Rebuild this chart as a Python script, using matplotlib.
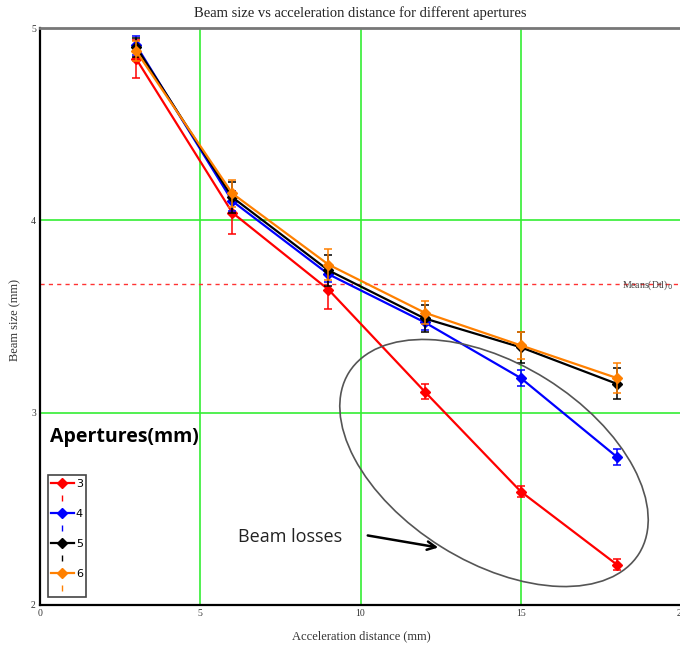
import matplotlib
matplotlib.use("Agg")
import matplotlib.pyplot as plt
from matplotlib.patches import Ellipse, FancyArrowPatch
from matplotlib.lines import Line2D
from matplotlib.transforms import IdentityTransform

# ---- data ----
distance = [3, 6, 9, 12, 15, 18]
apertures = ["3", "4", "5", "6"]
size_3 = [4.84, 4.04, 3.64, 3.11, 2.59, 2.21]
size_4 = [4.91, 4.10, 3.72, 3.47, 3.18, 2.77]
size_5 = [4.90, 4.12, 3.74, 3.49, 3.34, 3.15]
size_6 = [4.88, 4.14, 3.77, 3.52, 3.35, 3.18]
err_3 = [0.10, 0.11, 0.10, 0.04, 0.03, 0.03]
err_4 = [0.05, 0.05, 0.04, 0.04, 0.04, 0.04]
err_5 = [0.05, 0.08, 0.08, 0.07, 0.08, 0.08]
err_6 = [0.05, 0.07, 0.08, 0.06, 0.07, 0.08]
mean_line = 3.67
x_ticks = [0, 5, 10, 15, 20]
y_ticks = [2, 3, 4, 5]

colors = ["#ff0000", "#0000ff", "#000000", "#ff8000"]
sizes = [size_3, size_4, size_5, size_6]
errs = [err_3, err_4, err_5, err_6]

W, H = 680, 647
fig = plt.figure(figsize=(W / 100, H / 100), dpi=100)
ax = fig.add_axes([40 / W, 42 / H, 641 / W, 577 / H])
ax.set_xlim(0, 20)
ax.set_ylim(2, 5)
ax.set_xticks(x_ticks)
ax.set_yticks(y_ticks)
ax.grid(True, color="#33ee33", linewidth=1.2)
ax.set_axisbelow(True)
ax.tick_params(length=0, labelsize=7, pad=3)
for lab in ax.get_xticklabels() + ax.get_yticklabels():
    lab.set_family("Liberation Serif")
    lab.set_color("#333333")

for s in ["left", "bottom"]:
    ax.spines[s].set_color("black")
    ax.spines[s].set_linewidth(1.6)
ax.spines["top"].set_color("#777777")
ax.spines["top"].set_linewidth(2)
ax.spines["right"].set_visible(False)

ax.axhline(mean_line, color="#ff3333", linestyle=(0, (3, 3)), linewidth=1)
fig.text(622 / W, 1 - 285 / H, r"Means(Dtl)$_0$", family="Liberation Serif",
         fontsize=7, color="#444444", va="center", ha="left")

for i, (yv, ev, c) in enumerate(zip(sizes, errs, colors)):
    ax.errorbar(distance, yv, yerr=ev, color=c, marker="D", markersize=5.5,
                linewidth=1.6, elinewidth=1.1, capsize=3, capthick=1.1,
                zorder=3 + i)

ax.set_title("Beam size vs acceleration distance for different apertures",
             family="Liberation Serif", fontsize=10.5, color="#222222", pad=8)
fig.text(361 / W, 1 - 636 / H, "Acceleration distance (mm)",
         family="Liberation Serif", fontsize=9, color="#333333",
         ha="center", va="center")
fig.text(15 / W, 1 - 320 / H, "Beam size (mm)", family="Liberation Serif",
         fontsize=9, color="#333333", ha="center", va="center", rotation=90)

# legend
handles, labels = [], []
for name, c in zip(apertures, colors):
    handles.append(Line2D([], [], color=c, marker="D", markersize=5.5, linewidth=1.6))
    labels.append(name)
    handles.append(Line2D([], [], color=c, marker=r"$\mathrm{I}$", markersize=4,
                          linestyle="none"))
    labels.append(" ")
leg = ax.legend(handles, labels, loc="lower left",
                bbox_to_anchor=(8 / 641, 8 / 577), fontsize=8,
                frameon=True, fancybox=False, framealpha=1,
                edgecolor="#444444", handlelength=2.0, handletextpad=0.2,
                labelspacing=0.45, borderpad=0.3, borderaxespad=0)
leg.get_frame().set_linewidth(1.2)

fig.text(50 / W, 1 - 437 / H, "Apertures(mm)", family="Open Sans",
         fontsize=14, fontweight="bold", ha="left", va="center")

# annotation: ellipse + arrow + text
ell = Ellipse((494, H - 463), 342, 198, angle=-32, fill=False,
              edgecolor="#555555", linewidth=1.2, transform=IdentityTransform())
fig.add_artist(ell)
arr = FancyArrowPatch((365, H - 535), (441, H - 548), arrowstyle="->,head_length=6,head_width=3",
                      color="black", linewidth=1.8, transform=IdentityTransform())
fig.add_artist(arr)
fig.text(238 / W, 1 - 537 / H, "Beam losses", family="Open Sans",
         fontsize=13, ha="left", va="center", color="#222222")

fig.savefig("out.png", dpi=100)
